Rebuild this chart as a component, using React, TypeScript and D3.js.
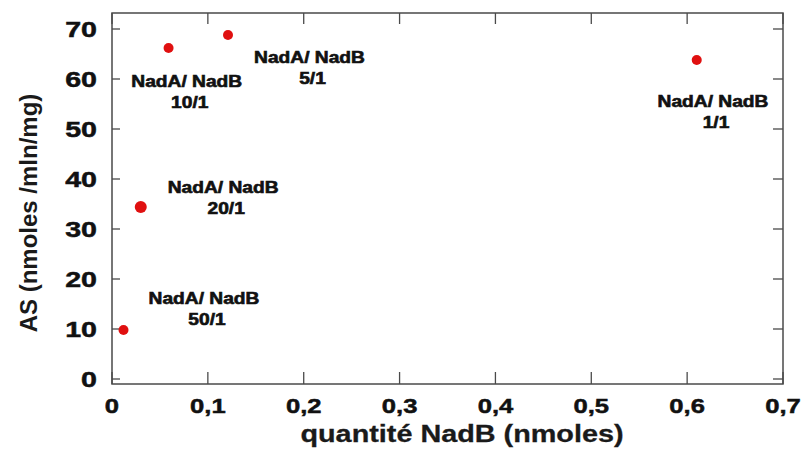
import React, { useEffect, useRef } from 'react';
import * as d3 from 'd3';

// Data
const quantities = [0.012, 0.03, 0.059, 0.121, 0.61];
const activities = [9.8, 34.4, 66.2, 68.8, 63.8];
const ratioLabels = ['50/1', '20/1', '10/1', '5/1', '1/1'];
// where each "NadA/ NadB" annotation sits, in data units (x, y of the first line)
const labelAnchorsX = [0.096, 0.116, 0.078, 0.206, 0.627];
const labelAnchorsY = [15, 37.2, 58.4, 63.2, 54.4];

const xTicks = [0, 0.1, 0.2, 0.3, 0.4, 0.5, 0.6, 0.7];
const yTicks = [0, 10, 20, 30, 40, 50, 60, 70];

const App: React.FC = () => {
    const svgRef = useRef<SVGSVGElement>(null);

    useEffect(() => {
        const svg = d3.select(svgRef.current);
        svg.selectAll('*').remove();

        const width = 803;
        const height = 450;
        const left = 112, right = 783, top = 13, bottom = 384;
        const font = '"Liberation Sans", Arial, sans-serif';
        const stretch = 1.22;

        svg.attr('width', width).attr('height', height).style('background', '#fff');

        const x = d3.scaleLinear().domain([0, 0.7]).range([left, right]);
        const y = d3.scaleLinear().domain([-1, 73.2]).range([bottom, top]);

        // stretched horizontal text, like the original raster
        const addText = (tx: number, ty: number, txt: string, size: number, anchor: string, color: string, sx = stretch, heavy = 0.5) => {
            svg.append('g')
                .attr('transform', `translate(${tx},${ty}) scale(${sx},1)`)
                .append('text')
                .attr('text-anchor', anchor)
                .style('font-family', font)
                .style('font-weight', 'bold')
                .style('font-size', `${size}px`)
                .attr('fill', color)
                .attr('stroke', color)
                .attr('stroke-width', heavy)
                .text(txt);
        };

        // Frame
        svg.append('rect')
            .attr('x', left).attr('y', top)
            .attr('width', right - left).attr('height', bottom - top)
            .attr('fill', 'none').attr('stroke', '#4a4a4a').attr('stroke-width', 1.5);

        const ticks = svg.append('g').attr('stroke', '#4a4a4a').attr('stroke-width', 1.3);
        xTicks.forEach(t => {
            ticks.append('line').attr('x1', x(t)).attr('x2', x(t)).attr('y1', bottom).attr('y2', bottom - 12);
            ticks.append('line').attr('x1', x(t)).attr('x2', x(t)).attr('y1', top).attr('y2', top + 11);
            addText(x(t), 413, String(t).replace('.', ','), 21, 'middle', '#111');
        });
        yTicks.forEach(t => {
            ticks.append('line').attr('x1', left).attr('x2', left + 8).attr('y1', y(t)).attr('y2', y(t));
            ticks.append('line').attr('x1', right).attr('x2', right - 10).attr('y1', y(t)).attr('y2', y(t));
            addText(97, y(t) + 8, String(t), 22, 'end', '#111', 1.3);
        });

        // Axis titles
        addText(462, 442, 'quantité NadB (nmoles)', 24, 'middle', '#1a1a1a', 1.2, 0.3);
        svg.append('text')
            .attr('transform', `translate(37,213) rotate(-90)`)
            .attr('text-anchor', 'middle')
            .style('font-family', font)
            .style('font-weight', 'bold')
            .style('font-size', '24px')
            .attr('fill', '#1a1a1a')
            .text('AS (nmoles /mln/mg)');

        // Points
        svg.append('g')
            .selectAll('circle')
            .data(quantities)
            .enter()
            .append('circle')
            .attr('cx', d => x(d))
            .attr('cy', (_, i) => y(activities[i]))
            .attr('r', (_, i) => (i === 1 ? 6 : 5))
            .attr('fill', '#e01010');

        // Annotations
        ratioLabels.forEach((r, i) => {
            const ax = x(labelAnchorsX[i]);
            const ay = y(labelAnchorsY[i]);
            addText(ax, ay, 'NadA/ NadB', 16, 'middle', '#111', 1.2, 0.6);
            addText(ax + 3, ay + 21, r, 16, 'middle', '#111', 1.2, 0.6);
        });
    }, []);

    return <svg ref={svgRef} style={{ position: 'absolute', left: 0, top: 0 }}></svg>;
};

export default App;
